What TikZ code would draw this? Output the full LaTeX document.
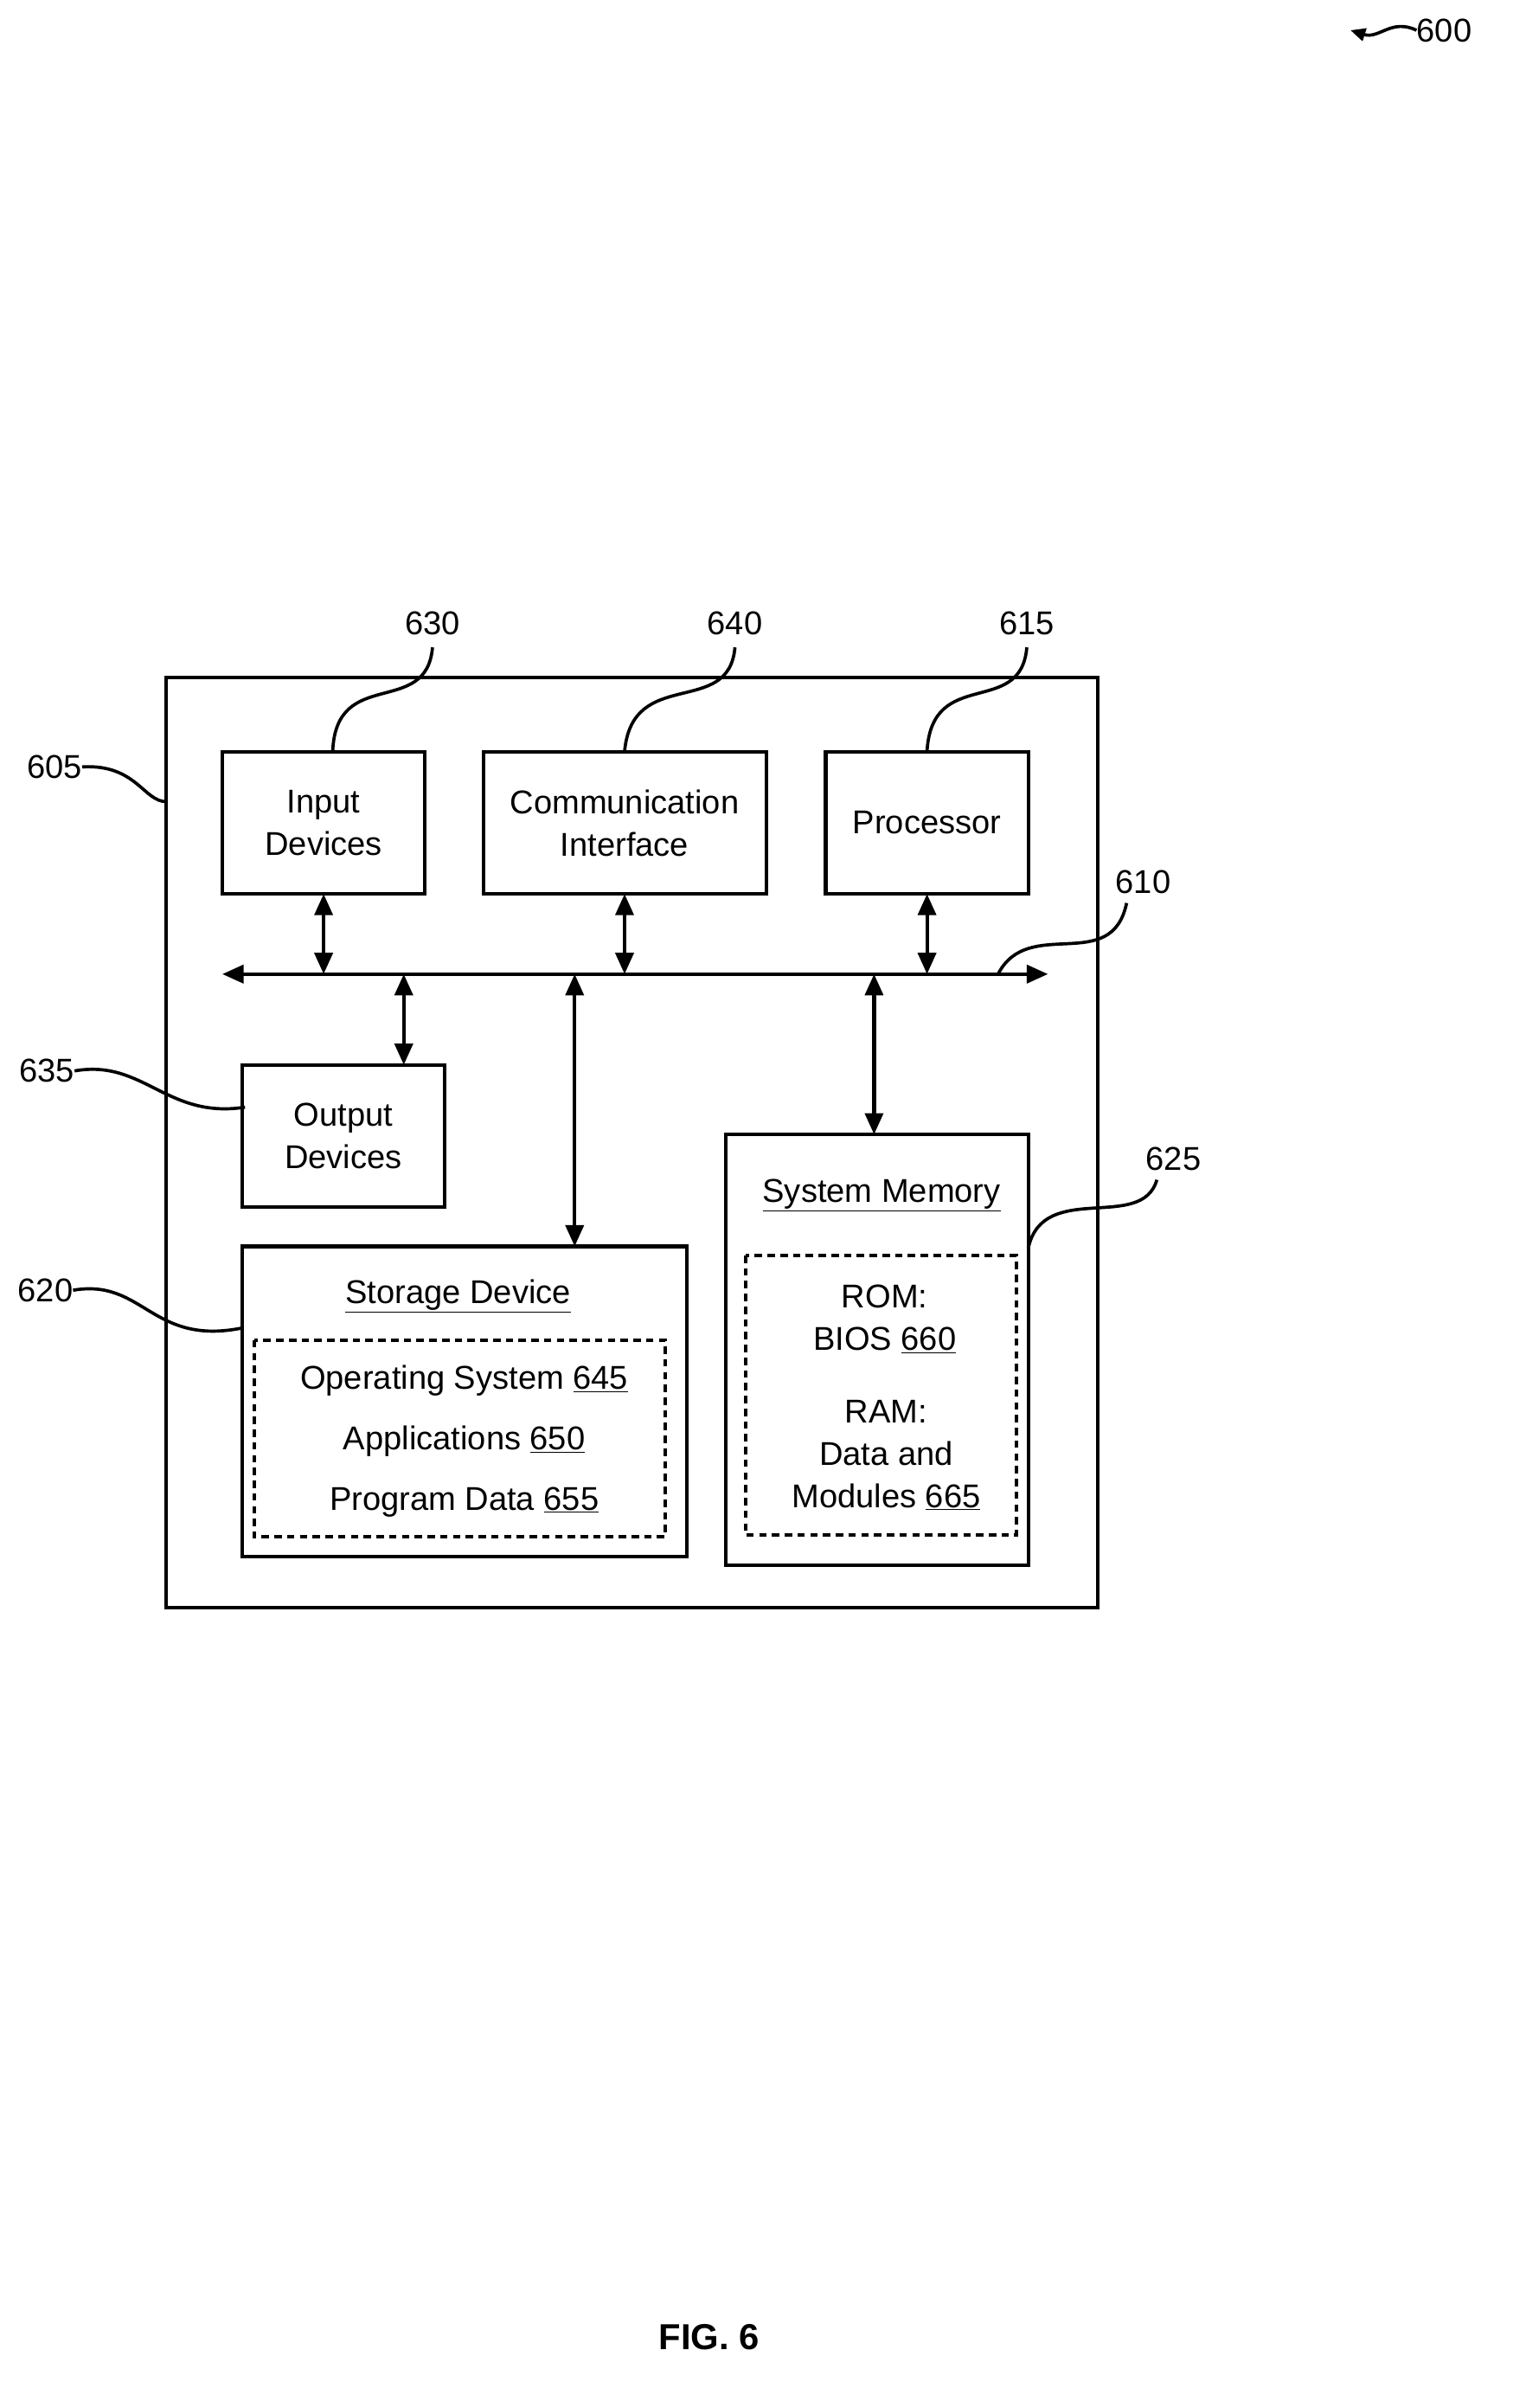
\documentclass[tikz,border=0pt]{standalone}
\usepackage{fontspec}
\setmainfont{Liberation Sans}
\usetikzlibrary{arrows.meta}
\begin{document}
\begin{tikzpicture}[x=0.5mm,y=-0.5mm,
  box/.style={draw,line width=3.4pt},
  dbox/.style={draw,line width=3.2pt,dash pattern=on 7pt off 5pt},
  txt/.style={font=\fontsize{31}{40}\selectfont,align=center,inner sep=0},
  lab/.style={font=\fontsize{31}{36}\selectfont,inner sep=0},
  dar/.style={line width=3.4pt,{Triangle[length=20pt,width=17pt]}-{Triangle[length=20pt,width=17pt]}},
  lead/.style={line width=3pt}]
\useasboundingbox (0,0) rectangle (1000,1592);
\draw[box] (110,448) rectangle (726,1063);
\draw[box] (147,497) rectangle (281,591);
\draw[box] (320,497) rectangle (507,591);
\draw[box] (546,497) rectangle (680,591);
\draw[box] (160,704) rectangle (294,798);
\draw[box] (160,824) rectangle (454,1029);
\draw[dbox] (168,886) rectangle (440,1016);
\draw[box] (480,750) rectangle (680,1035);
\draw[dbox] (493,830) rectangle (672,1015);
\node[txt] (in) at (214,544) {Input\\Devices};
\node[txt] (ci) at (413,544) {Communication\\Interface};
\node[txt] (pr) at (613,544) {Processor};
\node[txt] (od) at (227,751) {Output\\Devices};
\node[txt] (sd) at (303,857) {\underline{Storage Device}};
\node[txt] at (307,913) {Operating System \underline{645}};
\node[txt] at (307,953) {Applications \underline{650}};
\node[txt] at (307,993) {Program Data \underline{655}};
\node[txt] (sm) at (583,790) {\underline{System Memory}};
\node[txt] at (585,872) {ROM:\\BIOS \underline{660}};
\node[txt] at (586,962) {RAM:\\Data and\\Modules \underline{665}};
\coordinate (bl) at (147,644); \coordinate (br) at (693,644);
\draw[dar] (bl) -- (br);
\draw[dar] (214,591) -- (214,644);
\draw[dar] (413,591) -- (413,644);
\draw[dar] (613,591) -- (613,644);
\draw[dar] (267,644) -- (267,704);
\draw[dar] (380,644) -- (380,824);
\draw[dar] (578,644) -- (578,750);
\node[lab] (l630) at (286,412) {630};
\node[lab] (l640) at (486,412) {640};
\node[lab] (l615) at (679,412) {615};
\node[lab] (l610) at (756,583) {610};
\node[lab] (l605) at (36,507) {605};
\node[lab] (l635) at (31,708) {635};
\node[lab] (l620) at (30,853) {620};
\node[lab] (l625) at (776,766) {625};
\node[lab] (l600) at (955,20) {600};
\node[font=\bfseries\fontsize{34}{40}\selectfont] at (469,1545) {FIG. 6};
\coordinate (a630) at (286,428); \coordinate (a640) at (486,428); \coordinate (a615) at (679,428);
\coordinate (a610) at (745,597); \coordinate (a625) at (765,780);
\draw[lead] (a630) .. controls (282,475) and (222,440) .. (220,497);
\draw[lead] (a640) .. controls (482,475) and (418,440) .. (413,497);
\draw[lead] (a615) .. controls (675,475) and (616,440) .. (613,497);
\draw[lead] (a610) .. controls (735,645) and (680,605) .. (660,644);
\draw[lead] (l605.east) .. controls (90,505) and (95,530) .. (110,530);
\draw[lead] (l635.east) .. controls (95,700) and (110,740) .. (162,732);
\draw[lead] (l620.east) .. controls (95,845) and (100,890) .. (160,878);
\draw[lead] (a625) .. controls (755,815) and (690,780) .. (680,825);
\draw[lead,-{Triangle[length=14pt,width=12pt]}] (l600.west) .. controls (920,12) and (912,26) .. (893,20);
\end{tikzpicture}
\end{document}
